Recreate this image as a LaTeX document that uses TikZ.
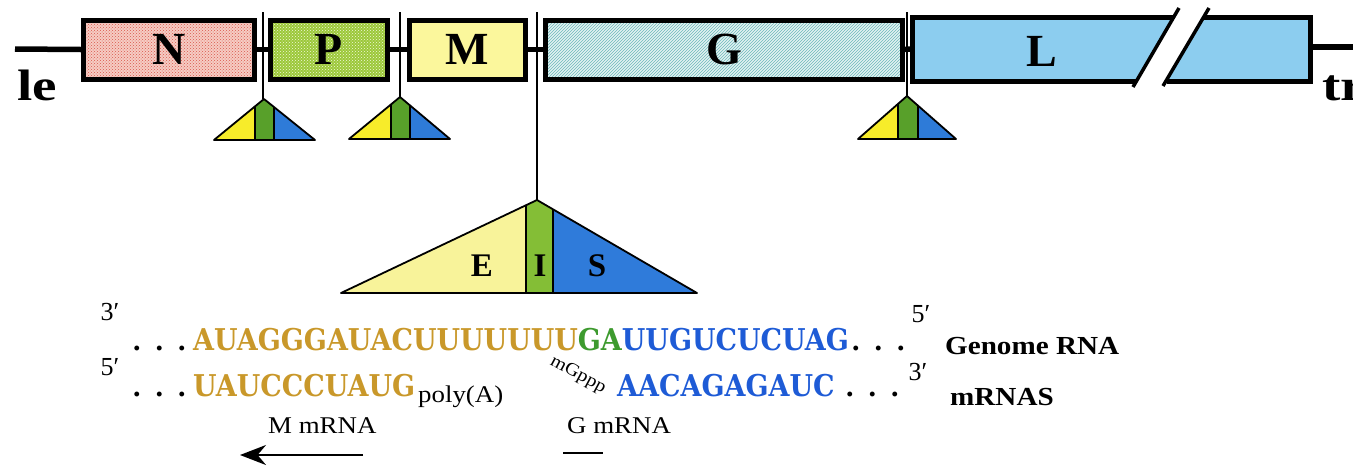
\documentclass[tikz,border=0pt]{standalone}
\usepackage{fontspec}
\setmainfont{Liberation Serif}
\newfontfamily\seqfont[FakeStretch=0.9]{DejaVu Serif}
\newfontfamily\labfont[FakeStretch=1.12]{Liberation Serif}
\newfontfamily\endfont[FakeStretch=1.25]{Liberation Serif}
\usetikzlibrary{patterns,arrows.meta}

\definecolor{nfill}{HTML}{F6CCC4}
\definecolor{nline}{HTML}{D9574A}
\definecolor{pfill}{HTML}{9CC83A}
\definecolor{pdot}{HTML}{F2F9DC}
\definecolor{mfill}{HTML}{FBF79C}
\definecolor{gfill}{HTML}{E2F2F2}
\definecolor{gline}{HTML}{6CB8BA}
\definecolor{lfill}{HTML}{8CCDEF}
\definecolor{smY}{HTML}{F7EC2A}
\definecolor{smG}{HTML}{58A02A}
\definecolor{smB}{HTML}{2E7BD8}
\definecolor{bgY}{HTML}{F8F39A}
\definecolor{bgG}{HTML}{84BE36}
\definecolor{bgB}{HTML}{2F7BDA}
\definecolor{seqorange}{HTML}{C9982A}
\definecolor{seqgreen}{HTML}{3D9A2E}
\definecolor{seqblue}{HTML}{1E5BD6}

% intergenic junction: apex x, apex y, base left x, base right x, base y,
% strip left x, strip right x, colour prefix
\newcommand\junctri[8]{%
  \begin{scope}
    \clip (#1,#2) -- (#3,#5) -- (#4,#5) -- cycle;
    \fill[#8Y] (#3,#2) rectangle (#6,#5);
    \fill[#8G] (#6,#2) rectangle (#7,#5);
    \fill[#8B] (#7,#2) rectangle (#4,#5);
    \draw[line width=1.6pt] (#6,#2) -- (#6,#5) (#7,#2) -- (#7,#5);
  \end{scope}
  \draw[line width=1.8pt, line join=round] (#1,#2) -- (#3,#5) -- (#4,#5) -- cycle;
}

\tikzset{
  genebox/.style={draw=black, line width=5pt, minimum height=59pt, inner sep=0pt,
    font=\fontsize{46}{46}\selectfont\bfseries},
  backbone/.style={line width=5.5pt},
  junctionline/.style={line width=1.4pt},
  endlab/.style={anchor=base west, inner sep=0pt, font=\endfont\fontsize{44}{44}\selectfont\bfseries},
  seqtext/.style={anchor=base west, inner sep=0pt, font=\seqfont\fontsize{30}{30}\selectfont\bfseries},
  dotrow/.style={anchor=base west, inner sep=0pt, font=\fontsize{30}{30}\selectfont\bfseries},
  primelab/.style={inner sep=0pt, font=\fontsize{26}{26}\selectfont},
  sidelab/.style={anchor=base west, inner sep=0pt, font=\labfont\fontsize{26}{26}\selectfont\bfseries},
  smalllab/.style={anchor=base west, inner sep=0pt, font=\labfont\fontsize{24}{24}\selectfont},
  domlabel/.style={inner sep=0pt, font=\fontsize{33}{33}\selectfont\bfseries},
}

\begin{document}
\begin{tikzpicture}[x=1pt,y=-1pt]
\useasboundingbox (0,0) rectangle (1353,467);

% gene boxes
\node[genebox, minimum width=171pt, preaction={fill=nfill}, pattern=crosshatch dots, pattern color=nline] (N) at (169,49.5) {N};
\node[genebox, minimum width=117pt, preaction={fill=pfill}, pattern=crosshatch dots, pattern color=pdot] (P) at (329,49.5) {P};
\node[genebox, minimum width=116pt, fill=mfill] (M) at (467.5,49.5) {M};
\node[genebox, minimum width=357pt, preaction={fill=gfill}, pattern=north east lines, pattern color=gline] (G) at (724,49.5) {G};

% L gene, drawn with a break
\fill[lfill] (912.5,20) -- (1172,20) -- (1138,79) -- (912.5,79) -- cycle;
\fill[lfill] (1202,20) -- (1310.5,20) -- (1310.5,79) -- (1168,79) -- cycle;
\draw[line width=5pt] (1173.5,17.5) -- (912.5,17.5) -- (912.5,81.5) -- (1136.5,81.5);
\draw[line width=5pt] (1203.5,17.5) -- (1310.5,17.5) -- (1310.5,81.5) -- (1166.5,81.5);
\draw[line width=3.5pt] (1179,8) -- (1133,87);
\draw[line width=3.5pt] (1209,8) -- (1163,86);
\node[font=\fontsize{46}{46}\selectfont\bfseries, inner sep=0pt] (L) at (1042,51) {L};

% genome backbone
\coordinate (lend) at (15,49);
\coordinate (Lin) at (910,49);
\coordinate (Lout) at (1313,47);
\coordinate (tend) at (1353,47);
\draw[backbone] (lend) -- (N.west);
\draw[backbone] (N.east) -- (P.west);
\draw[backbone] (P.east) -- (M.west);
\draw[backbone] (M.east) -- (G.west);
\draw[backbone] (G.east) -- (Lin);
\draw[backbone] (Lout) -- (tend);

\node[endlab] (le) at (17,100) {le};
\node[endlab] (tr) at (1322,100) {tr};

% junction markers
\coordinate (j1top) at (263,12);  \coordinate (j1) at (263,99);
\coordinate (j2top) at (400,12);  \coordinate (j2) at (400,97);
\coordinate (j3top) at (537,12);  \coordinate (j3) at (537,200);
\coordinate (j4top) at (907,12);  \coordinate (j4) at (907,96);
\draw[junctionline] (j1top) -- (j1);
\draw[junctionline] (j2top) -- (j2);
\draw[junctionline] (j3top) -- (j3);
\draw[junctionline] (j4top) -- (j4);

\junctri{264}{99}{214}{315}{140}{255}{274}{sm}
\junctri{400}{97}{349}{450}{139}{391}{410}{sm}
\junctri{907}{96}{858}{956}{139}{898}{918}{sm}
\junctri{537}{200}{341}{697}{293}{526}{553}{bg}

\node[domlabel] (E) at (482,266) {E};
\node[domlabel] (I) at (540,266) {I};
\node[domlabel] (S) at (597,266) {S};

% genome sequence
\node[primelab] (p3a) at (110,312) {3′};
\node[dotrow] (d1) at (133,350) {.\hspace{15pt}.\hspace{15pt}.};
\node[seqtext] (g1) at (193,350) {\textcolor{seqorange}{AUAGGGAUACUUUUUUU}\textcolor{seqgreen}{GA}\textcolor{seqblue}{UUGUCUCUAG}};
\node[dotrow] (d2) at (852,350) {.\hspace{15pt}.\hspace{15pt}.};
\node[primelab] (p5a) at (921,314) {5′};
\node[sidelab] (genome) at (945,354) {Genome RNA};

% mRNA sequences
\node[primelab] (p5b) at (110,367) {5′};
\node[dotrow] (d3) at (133,396) {.\hspace{15pt}.\hspace{15pt}.};
\node[seqtext, text=seqorange] (m1) at (193,396) {UAUCCCUAUG};
\node[anchor=base west, inner sep=0pt, font=\labfont\fontsize{24}{24}\selectfont] (polyA) at (418,402) {poly(A)};
\node[inner sep=0pt, rotate=-28, font=\labfont\fontsize{18}{18}\selectfont] (cap) at (578,375) {mGppp};
\node[seqtext, text=seqblue] (m2) at (617,396) {AACAGAGAUC};
\node[dotrow] (d4) at (846,396) {.\hspace{15pt}.\hspace{15pt}.};
\node[primelab] (p3b) at (918,372) {3′};
\node[sidelab] (mrnas) at (950,405) {mRNAS};

\node[smalllab] (Mm) at (268,433) {M mRNA};
\node[smalllab] (Gm) at (567,433) {G mRNA};

\coordinate (arrS) at (363,455);
\coordinate (arrE) at (240,455);
\draw[line width=2.2pt, -{Stealth[length=26pt,width=20pt]}] (arrS) -- (arrE);
\coordinate (gS) at (563,453);
\coordinate (gE) at (603,453);
\draw[line width=2.2pt] (gS) -- (gE);
\end{tikzpicture}
\end{document}
